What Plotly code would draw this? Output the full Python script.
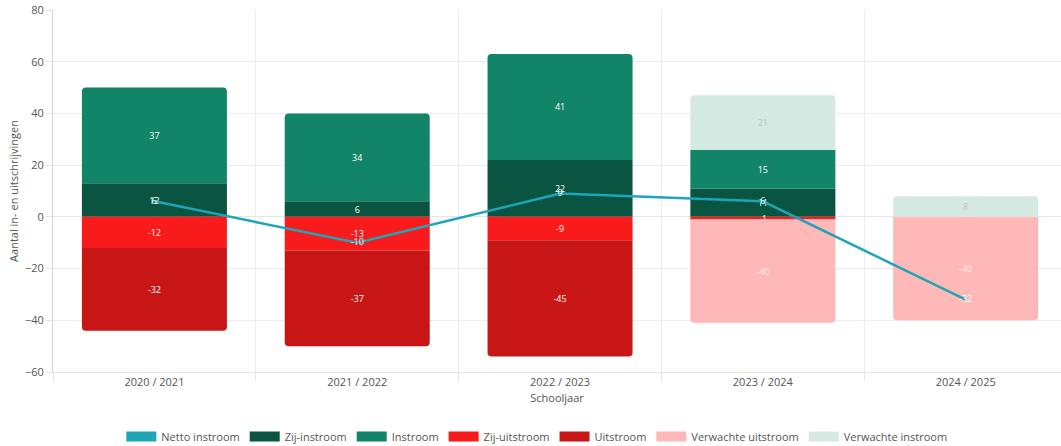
import plotly.graph_objects as go

years = ["2020 / 2021", "2021 / 2022", "2022 / 2023", "2023 / 2024", "2024 / 2025"]
zij_instroom = [13, 6, 22, 11, None]
instroom = [37, 34, 41, 15, None]
zij_uitstroom = [-12, -13, -9, -1, None]
uitstroom = [-32, -37, -45, None, None]
verw_uitstroom = [None, None, None, -40, -40]
verw_instroom = [None, None, None, 21, 8]
netto = [6, -10, 9, 6, -32]

C_NETTO = "#1ea5b8"
C_ZIJIN = "#0a5541"
C_IN = "#128468"
C_ZIJUIT = "#f91b1b"
C_UIT = "#c81616"
C_VUIT = "#ffb8b8"
C_VIN = "#d5e9e3"

FONT = "Open Sans"

def lab(vals):
    return ["" if v is None else str(v) for v in vals]

fig = go.Figure()

# legend swatches drawn as wide rectangles (legend-only traces, linked by legendgroup)
legend_items = [
    ("Netto instroom", C_NETTO), ("Zij-instroom", C_ZIJIN), ("Instroom", C_IN),
    ("Zij-uitstroom", C_ZIJUIT), ("Uitstroom", C_UIT),
    ("Verwachte uitstroom", C_VUIT), ("Verwachte instroom", C_VIN),
]
for name, color in legend_items:
    fig.add_trace(go.Scatter(x=[years[0]], y=[None], mode="lines", name=name,
                             line=dict(color=color, width=14), legendgroup=name,
                             showlegend=True, hoverinfo="skip"))

def add_bar(vals, name, color, tcolor="white"):
    fig.add_trace(go.Bar(
        x=years, y=vals, name=name, marker_color=color, marker_line_width=0,
        text=lab(vals), textposition="inside", insidetextanchor="middle", textangle=0,
        textfont=dict(size=9, color=tcolor, family=FONT),
        legendgroup=name, showlegend=False,
    ))

add_bar(zij_instroom, "Zij-instroom", C_ZIJIN)
add_bar(instroom, "Instroom", C_IN)
add_bar(zij_uitstroom, "Zij-uitstroom", C_ZIJUIT)
add_bar(uitstroom, "Uitstroom", C_UIT)
add_bar(verw_uitstroom, "Verwachte uitstroom", C_VUIT, "#f4eeee")
add_bar(verw_instroom, "Verwachte instroom", C_VIN, "#b5c7c1")

fig.add_trace(go.Scatter(
    x=years, y=netto, name="Netto instroom", mode="lines+text",
    line=dict(color=C_NETTO, width=2.5),
    text=[str(v) for v in netto], textposition="middle center",
    textfont=dict(size=9, color="white", family=FONT),
    legendgroup="Netto instroom", showlegend=False,
))

fig.update_layout(
    width=1061, height=446,
    margin=dict(l=53, r=0, t=10, b=74, autoexpand=False),
    barmode="relative", bargap=0.285, barcornerradius=4,
    plot_bgcolor="white", paper_bgcolor="white",
    font=dict(family=FONT, size=11, color="#555"),
    uniformtext=dict(minsize=9, mode="show"),
    legend=dict(orientation="h", x=0.48, xanchor="center", y=-0.138, yanchor="top",
                font=dict(size=11, color="#555"), traceorder="normal",
                itemsizing="trace", itemwidth=30),
    showlegend=True,
)
fig.update_xaxes(
    type="category", categoryorder="array", categoryarray=years,
    range=[-0.5, 4.47], tickson="boundaries", showgrid=True, gridcolor="#ececec",
    ticks="outside", ticklen=8, tickcolor="#e5e5e5",
    showline=True, linecolor="#e5e5e5", automargin=False,
    title=dict(text="Schooljaar", font=dict(size=11, color="#555"), standoff=6),
    tickfont=dict(size=11, color="#555"),
)
fig.update_yaxes(
    range=[-60, 80], dtick=20, showgrid=True, gridcolor="#ececec",
    zeroline=True, zerolinecolor="#e5e5e5", zerolinewidth=1,
    ticks="outside", ticklen=6, tickcolor="#e5e5e5",
    showline=True, linecolor="#d5d5d5", automargin=False,
    title=dict(text="Aantal in- en uitschrijvingen", font=dict(size=11, color="#555"), standoff=4),
    tickfont=dict(size=11, color="#555"),
)

fig.write_html("out.html", config={"displayModeBar": False},
               post_script="document.body.style.margin='0';")
